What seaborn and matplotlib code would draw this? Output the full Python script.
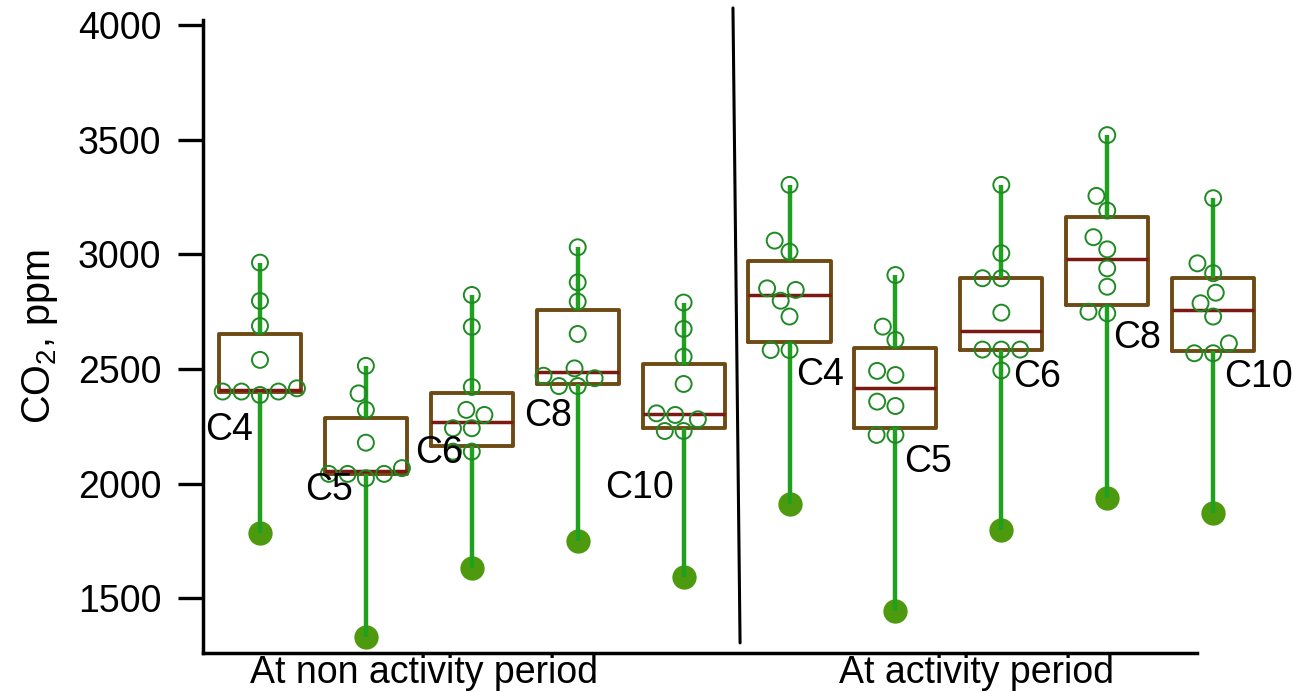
import matplotlib
matplotlib.use("Agg")
import matplotlib.pyplot as plt
import matplotlib.transforms as mtransforms
import pandas as pd
import seaborn as sns

# ---- data -------------------------------------------------------------
periods = ["At non activity period", "At activity period"]
sites = ["C4", "C5", "C6", "C8", "C10"]

# individual CO2 readings (ppm), non activity period
non_c4 = [2964, 2797, 2688, 2540, 2416, 2402, 2402, 2402, 2387]
non_c5 = [2514, 2394, 2322, 2179, 2068, 2043, 2043, 2043, 2024]
non_c6 = [2823, 2684, 2422, 2322, 2300, 2242, 2242, 2140, 2140]
non_c8 = [3031, 2878, 2794, 2653, 2503, 2471, 2460, 2426, 2426]
non_c10 = [2790, 2675, 2554, 2435, 2307, 2300, 2281, 2230, 2230]

# individual CO2 readings (ppm), activity period
act_c4 = [3303, 3060, 3012, 2852, 2845, 2798, 2729, 2583, 2583]
act_c5 = [2910, 2685, 2627, 2492, 2474, 2358, 2339, 2213, 2213]
act_c6 = [3303, 3005, 2896, 2896, 2746, 2585, 2585, 2585, 2494]
act_c8 = [3520, 3255, 3191, 3075, 3022, 2939, 2859, 2750, 2743]
act_c10 = [3245, 2961, 2918, 2833, 2787, 2729, 2612, 2569, 2569]

# lowest reading of each site (drawn as a filled dot)
non_min = [1786, 1332, 1633, 1751, 1593]
act_min = [1912, 1443, 1799, 1937, 1871]

# ---- layout / style ---------------------------------------------------
# site label anchors: (offset from box centre in category units, ppm)
label_anchor = [(-0.29, 2235), (-0.35, 1973), (-0.31, 2135), (-0.28, 2296), (-0.42, 1980),
                (0.29, 2474), (0.31, 2095), (0.34, 2466), (0.28, 2636), (0.43, 2466)]
period_label_x = [1.55, 6.77]

BOX = "#6E4B14"
MEDIAN = "#7A1A12"
WHISKER = "#1FA01F"
CIRCLE = "#1F8A24"
DOT = "#4E9A0E"

sns.set_theme(style="ticks")
plt.rcParams["font.family"] = ["Liberation Sans", "DejaVu Sans"]
plt.rcParams["mathtext.fontset"] = "custom"
plt.rcParams["mathtext.rm"] = "Liberation Sans"

# ---- tables -------------------------------------------------------------
readings = [non_c4, non_c5, non_c6, non_c8, non_c10,
            act_c4, act_c5, act_c6, act_c8, act_c10]
minima = non_min + act_min

pts_rows = []
for slot, vals in enumerate(readings):
    for v in vals:
        pts_rows.append({"slot": slot, "ppm": v})
points = pd.DataFrame(pts_rows)
lows = pd.DataFrame({"slot": list(range(len(minima))), "ppm": minima})
allvals = pd.concat([points, lows], ignore_index=True)

# ---- figure -------------------------------------------------------------
fig = plt.figure(figsize=(12.93, 6.92), dpi=100)
ax = fig.add_axes([203 / 1293, 39 / 692, 1090 / 1293, 633 / 692])

sns.boxplot(data=allvals, x="slot", y="ppm", whis=(0, 100), width=0.775,
            fill=False, color=BOX, showcaps=False, showfliers=False,
            boxprops=dict(color=BOX, linewidth=2.8),
            whiskerprops=dict(color=WHISKER, linewidth=3.2),
            medianprops=dict(color=MEDIAN, linewidth=2.5),
            ax=ax)

sns.stripplot(data=lows, x="slot", y="ppm", jitter=False, size=17.5,
              color=DOT, linewidth=0, ax=ax, zorder=1)

n_before = len(ax.collections)
sns.swarmplot(data=points, x="slot", y="ppm", size=11.5, color=CIRCLE,
              linewidth=1.4, ax=ax, zorder=3, warn_thresh=1)
for coll in ax.collections[n_before:]:
    coll.set_facecolor("none")
    coll.set_edgecolor(CIRCLE)
    coll.set_linewidth(1.4)

# site labels
n_sites = len(sites)
for slot, (dx, y) in enumerate(label_anchor):
    ax.text(slot + dx, y, sites[slot % n_sites], fontsize=27, color="black",
            ha="center", va="center")

# period labels under the axis
blend = mtransforms.blended_transform_factory(ax.transData, ax.transAxes)
for x, name in zip(period_label_x, periods):
    ax.text(x, -0.0474, name, transform=blend, fontsize=27, color="black",
            ha="center", va="baseline", clip_on=False)

# divider between the two periods
mid = n_sites - 0.5
ax.plot([mid - 0.034, mid + 0.033], [1.019, 0.016], transform=blend,
        color="black", lw=2.2, clip_on=False)

# axes
ax.set_xlim(-0.538, 9.754)
ax.set_ylim(1262, 4022)
ax.set_yticks(range(1500, 4001, 500))
ax.set_xticks([])
ax.set_xlabel("")
ax.set_ylabel("CO$_\\mathregular{2}$, ppm", fontsize=28.5, labelpad=13, color="black")
sns.despine(ax=ax)
ax.spines["bottom"].set_bounds(-0.538, 8.848)
for side in ("left", "bottom"):
    ax.spines[side].set_linewidth(2.5)
    ax.spines[side].set_color("black")
ax.tick_params(axis="y", length=18, width=2.4, pad=12, labelsize=27,
               color="black", labelcolor="black")

fig.savefig("out.png", dpi=100)
